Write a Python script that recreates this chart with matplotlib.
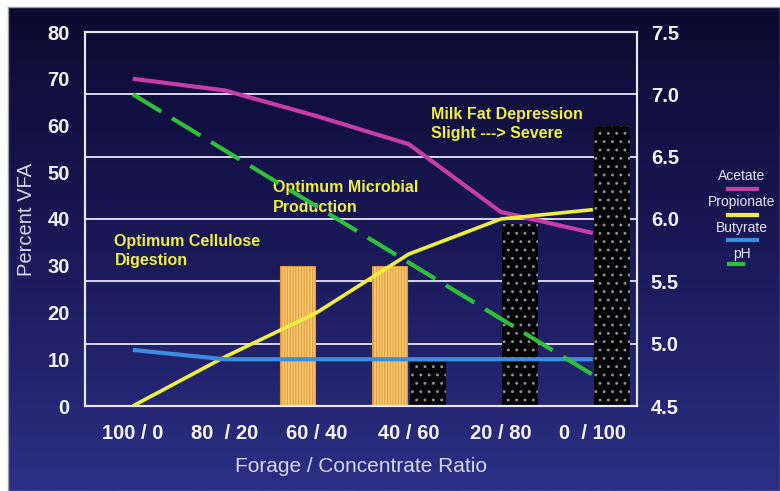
import numpy as np
import matplotlib
matplotlib.use("Agg")
import matplotlib.pyplot as plt
from matplotlib.lines import Line2D
from matplotlib.colors import LinearSegmentedColormap

plt.rcParams['font.family'] = ['Liberation Sans', 'DejaVu Sans']

# --- data ---
ratios = ["100 / 0", "80  / 20", "60 / 40", "40 / 60", "20 / 80", "0  / 100"]
acetate = [70, 67.5, 62, 56, 41.5, 37]
propionate = [0, 10.5, 20, 32.5, 40, 42]
butyrate = [12, 10, 10, 10, 10, 10]
ph = [7.0, 6.55, 6.1, 5.65, 5.2, 4.75]
cellulose_bars = [0, 0, 30, 30, 0, 0]
milkfat_bars = [0, 0, 0, 9.5, 39, 60]

vfa_ticks = [0, 10, 20, 30, 40, 50, 60, 70, 80]
ph_ticks = [4.5, 5.0, 5.5, 6.0, 6.5, 7.0, 7.5]

W, H = 780, 491
fig = plt.figure(figsize=(W / 100, H / 100), dpi=100)
fig.patch.set_facecolor("white")

# dark gradient slide background
bg = fig.add_axes([8 / W, 0, 1 - 8 / W, 1 - 7 / H], zorder=-10)
cmap = LinearSegmentedColormap.from_list("bg", ["#0c0a30", "#1a1958", "#2c2f84"])
bg.imshow(np.linspace(0, 1, 256)[:, None], aspect="auto", cmap=cmap, extent=[0, 1, 0, 1])
bg.set_xticks([])
bg.set_yticks([])
for s in bg.spines.values():
    s.set_color("#9a9aa8")
    s.set_linewidth(1)

ax = fig.add_axes([85 / W, 85 / H, 552 / W, 374 / H])
ax.set_facecolor("none")
ax2 = ax.twinx()

x = np.arange(len(ratios))
ax.set_xlim(-0.52, 5.48)
ax.set_ylim(vfa_ticks[0], vfa_ticks[-1])
ax2.set_ylim(ph_ticks[0], ph_ticks[-1])

# gridlines sit at the pH ticks
for t in ph_ticks[1:-1]:
    yv = (t - ph_ticks[0]) / (ph_ticks[-1] - ph_ticks[0]) * (vfa_ticks[-1] - vfa_ticks[0])
    ax.axhline(yv, color="#d8d6f0", lw=1.4, zorder=0.5)

w = 0.39
with plt.rc_context({'hatch.linewidth': 0.6}):
    ax.bar(x - 0.21, cellulose_bars, w, color="#f6c66a", edgecolor="#d8983e",
           hatch="||||||", linewidth=0.8, zorder=2)
with plt.rc_context({'hatch.linewidth': 0.9}):
    ax.bar(x + 0.21, milkfat_bars, w, color="#040404", edgecolor="#8e8e9e",
           hatch="..", linewidth=0, zorder=2)

ax.plot(x, acetate, color="#c83ca8", lw=3, zorder=3, solid_capstyle="butt")
ax.plot(x, propionate, color="#eef03c", lw=2.6, zorder=3, solid_capstyle="butt")
ax.plot(x, butyrate, color="#3a8ee0", lw=3, zorder=3, solid_capstyle="butt")
ax2.plot(x, ph, color="#2fc03a", lw=3, dashes=(8, 3), zorder=3)

for a in (ax, ax2):
    for s in a.spines.values():
        s.set_color("#e8e8f8")
        s.set_linewidth(1.5)
    a.tick_params(length=0)

ax.set_xticks(x, labels=ratios, fontweight="bold", fontsize=14.5, color="#f2f2f8")
ax.tick_params(axis="x", pad=13)
ax.set_yticks(vfa_ticks, labels=[str(v) for v in vfa_ticks], fontweight="bold",
              fontsize=14.5, color="#f2f2f8")
ax.tick_params(axis="y", pad=11)
ax2.set_yticks(ph_ticks, labels=[f"{v:.1f}" for v in ph_ticks], fontweight="bold",
               fontsize=14.5, color="#f2f2f8")
ax2.tick_params(axis="y", pad=10)

fig.text(27 / W, 1 - 219 / H, "Percent VFA", rotation=90, ha="center", va="center",
         color="#d6d6ec", fontsize=14.5)
fig.text(361 / W, 1 - 467 / H, "Forage / Concentrate Ratio", ha="center", va="center",
         color="#d6d6ec", fontsize=15)

# annotations
note = dict(color="#f0f03c", fontweight="bold", fontsize=11.5, ha="left", va="center",
            linespacing=1.35, zorder=4)
ax.text(-0.2, 33.2, "Optimum Cellulose\nDigestion", **note)
ax.text(1.52, 44.6, "Optimum Microbial\nProduction", **note)
ax.text(3.24, 60.3, "Milk Fat Depression\nSlight ---> Severe", **note)

# legend on the right
legend = [("Acetate", "#c83ca8", 176, 189, False),
          ("Propionate", "#eef03c", 202, 215, False),
          ("Butyrate", "#3a8ee0", 228, 240, False),
          ("pH", "#2fc03a", 254, 264, True)]
for name, col, ty, ly, short in legend:
    fig.text(742 / W, 1 - ty / H, name, ha="center", va="center", color="#e4e4f4",
             fontsize=10)
    x0, x1 = (729, 743) if short else (728, 757)
    fig.add_artist(Line2D([x0 / W, x1 / W], [1 - ly / H, 1 - ly / H], color=col, lw=3,
                          transform=fig.transFigure))

fig.savefig("out.png", dpi=100)
